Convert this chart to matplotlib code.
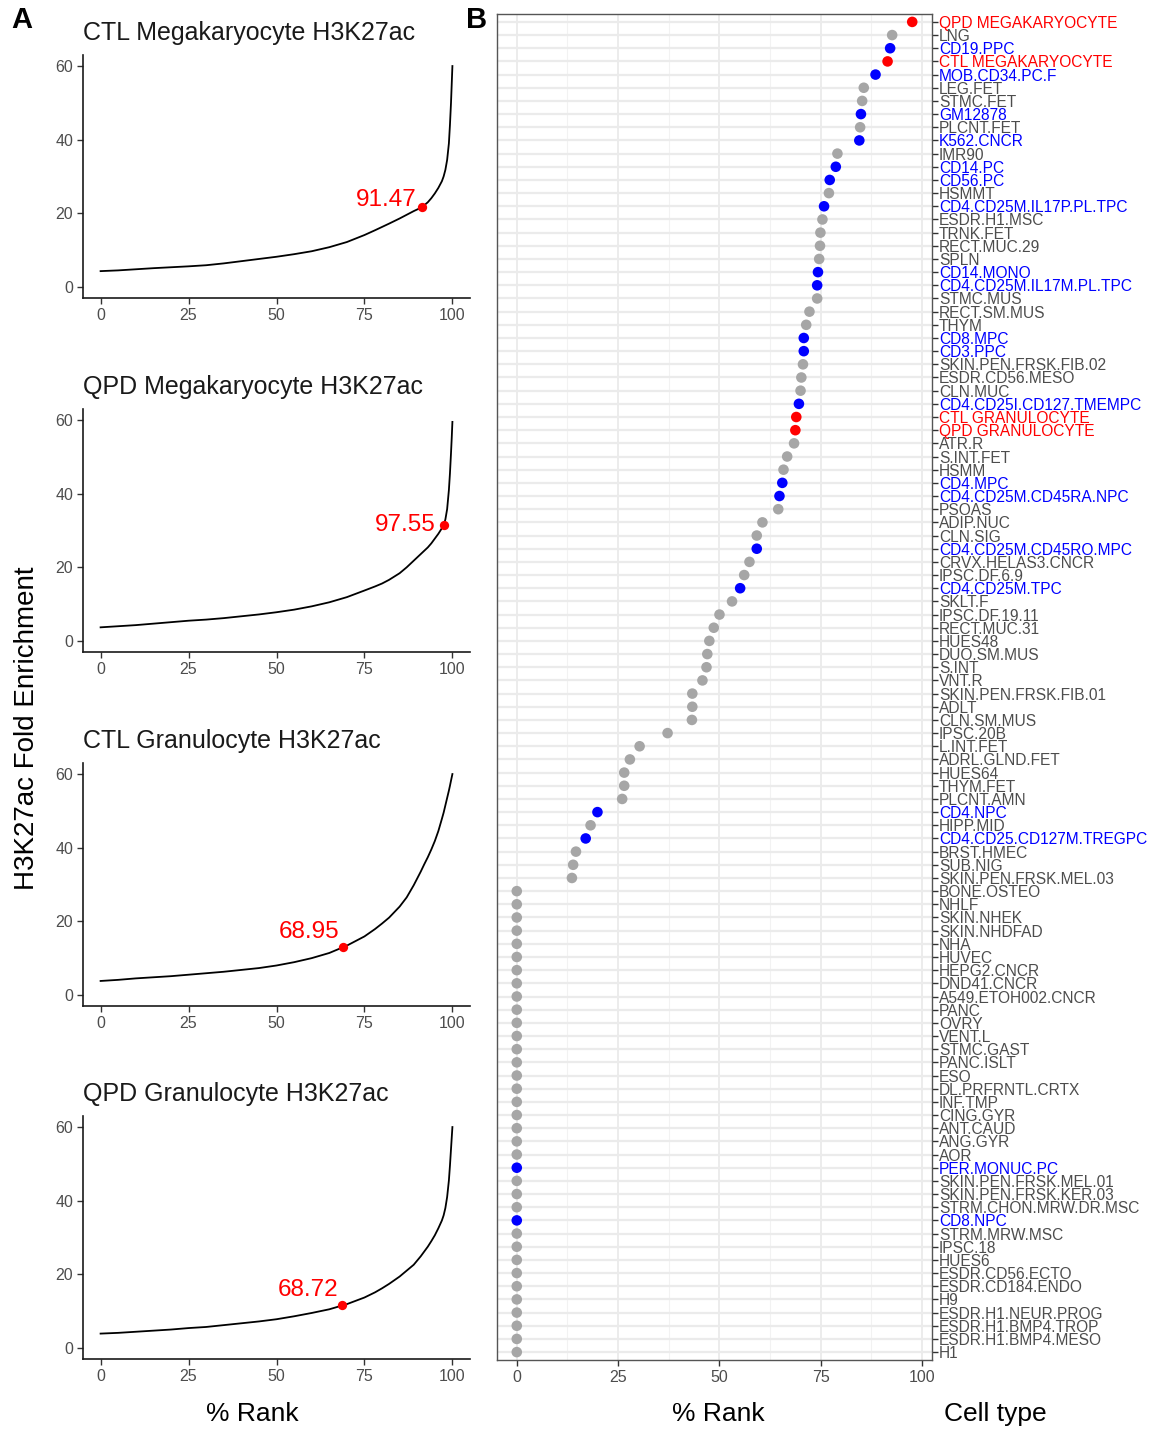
import numpy as np
import matplotlib
matplotlib.use("Agg")
import matplotlib.pyplot as plt
from matplotlib.ticker import MultipleLocator

plt.rcParams['font.family'] = ['Liberation Sans', 'DejaVu Sans']

# ---------------- Data: panel A (ranked fold enrichment curves) ----------------
panel_titles = ["CTL Megakaryocyte H3K27ac", "QPD Megakaryocyte H3K27ac",
                "CTL Granulocyte H3K27ac", "QPD Granulocyte H3K27ac"]
rank_pct = [0, 5, 10, 15, 20, 25, 30, 35, 40, 45, 50, 55, 60, 65, 70, 75, 78, 80, 82, 85,
            87, 89, 91, 92, 93, 94, 95, 96, 97, 97.5, 98, 98.5, 99, 99.3, 99.6, 99.8, 100]
enrich_ctl_mega = [4.3, 4.5, 4.8, 5.1, 5.35, 5.6, 5.9, 6.4, 7.0, 7.6, 8.2, 8.9, 9.7, 10.8, 12.2, 14.1,
                   15.4, 16.3, 17.2, 18.6, 19.6, 20.6, 21.5, 22.2, 23.0, 24.1, 25.4, 26.9, 28.7, 30.0,
                   31.8, 34.5, 39.0, 44.0, 50.0, 55.0, 60.0]
enrich_qpd_mega = [3.7, 4.0, 4.3, 4.7, 5.1, 5.5, 5.8, 6.2, 6.7, 7.2, 7.8, 8.5, 9.4, 10.5, 11.9, 13.7,
                   14.8, 15.6, 16.6, 18.4, 20.0, 21.8, 23.6, 24.5, 25.4, 26.5, 27.8, 29.1, 30.6, 31.4,
                   33.0, 35.8, 41.0, 45.5, 51.0, 55.0, 59.5]
enrich_ctl_gran = [3.8, 4.1, 4.5, 4.8, 5.1, 5.5, 5.9, 6.3, 6.8, 7.3, 8.0, 8.9, 10.0, 11.4, 13.4, 15.9,
                   17.9, 19.4, 21.0, 24.0, 26.5, 29.8, 33.5, 35.5, 37.4, 39.5, 41.8, 44.5, 47.8, 49.5,
                   51.5, 53.5, 55.5, 56.8, 58.2, 59.1, 60.0]
enrich_qpd_gran = [3.9, 4.1, 4.4, 4.7, 5.0, 5.4, 5.7, 6.2, 6.7, 7.2, 7.8, 8.6, 9.5, 10.5, 11.9, 13.7,
                   15.1, 16.2, 17.4, 19.4, 21.0, 22.6, 24.9, 26.2, 27.5, 29.0, 30.6, 32.5, 34.6, 36.0,
                   38.0, 41.0, 45.5, 49.5, 54.0, 57.0, 60.0]
sample_rank = [91.47, 97.55, 68.95, 68.72]
sample_enrich = [21.8, 31.5, 13.0, 11.6]

# ---------------- Data: panel B (percent rank per cell type) ----------------
cell_types = [
    "QPD MEGAKARYOCYTE", "LNG", "CD19.PPC", "CTL MEGAKARYOCYTE", "MOB.CD34.PC.F",
    "LEG.FET", "STMC.FET", "GM12878", "PLCNT.FET", "K562.CNCR",
    "IMR90", "CD14.PC", "CD56.PC", "HSMMT", "CD4.CD25M.IL17P.PL.TPC",
    "ESDR.H1.MSC", "TRNK.FET", "RECT.MUC.29", "SPLN", "CD14.MONO",
    "CD4.CD25M.IL17M.PL.TPC", "STMC.MUS", "RECT.SM.MUS", "THYM", "CD8.MPC",
    "CD3.PPC", "SKIN.PEN.FRSK.FIB.02", "ESDR.CD56.MESO", "CLN.MUC", "CD4.CD25I.CD127.TMEMPC",
    "CTL GRANULOCYTE", "QPD GRANULOCYTE", "ATR.R", "S.INT.FET", "HSMM",
    "CD4.MPC", "CD4.CD25M.CD45RA.NPC", "PSOAS", "ADIP.NUC", "CLN.SIG",
    "CD4.CD25M.CD45RO.MPC", "CRVX.HELAS3.CNCR", "IPSC.DF.6.9", "CD4.CD25M.TPC", "SKLT.F",
    "IPSC.DF.19.11", "RECT.MUC.31", "HUES48", "DUO.SM.MUS", "S.INT",
    "VNT.R", "SKIN.PEN.FRSK.FIB.01", "ADLT", "CLN.SM.MUS", "IPSC.20B",
    "L.INT.FET", "ADRL.GLND.FET", "HUES64", "THYM.FET", "PLCNT.AMN",
    "CD4.NPC", "HIPP.MID", "CD4.CD25.CD127M.TREGPC", "BRST.HMEC", "SUB.NIG",
    "SKIN.PEN.FRSK.MEL.03", "BONE.OSTEO", "NHLF", "SKIN.NHEK", "SKIN.NHDFAD",
    "NHA", "HUVEC", "HEPG2.CNCR", "DND41.CNCR", "A549.ETOH002.CNCR",
    "PANC", "OVRY", "VENT.L", "STMC.GAST", "PANC.ISLT",
    "ESO", "DL.PRFRNTL.CRTX", "INF.TMP", "CING.GYR", "ANT.CAUD",
    "ANG.GYR", "AOR", "PER.MONUC.PC", "SKIN.PEN.FRSK.MEL.01", "SKIN.PEN.FRSK.KER.03",
    "STRM.CHON.MRW.DR.MSC", "CD8.NPC", "STRM.MRW.MSC", "IPSC.18", "HUES6",
    "ESDR.CD56.ECTO", "ESDR.CD184.ENDO", "H9", "ESDR.H1.NEUR.PROG", "ESDR.H1.BMP4.TROP",
    "ESDR.H1.BMP4.MESO", "H1",
]
pct_rank = [
    97.55, 92.6, 92.1, 91.47, 88.5,
    85.6, 85.2, 84.9, 84.7, 84.5,
    79.1, 78.7, 77.2, 77.0, 75.8,
    75.4, 74.9, 74.8, 74.6, 74.3,
    74.1, 74.1, 72.2, 71.4, 70.8,
    70.8, 70.6, 70.2, 70.0, 69.6,
    68.95, 68.72, 68.4, 66.7, 65.8,
    65.5, 64.8, 64.5, 60.6, 59.2,
    59.2, 57.4, 56.1, 55.1, 53.1,
    50.0, 48.6, 47.5, 47.0, 46.8,
    45.8, 43.3, 43.3, 43.2, 37.2,
    30.3, 27.9, 26.5, 26.5, 26.0,
    19.9, 18.2, 17.0, 14.6, 13.9,
    13.6, 0, 0, 0, 0,
    0, 0, 0, 0, 0,
    0, 0, 0, 0, 0,
    0, 0, 0, 0, 0,
    0, 0, 0, 0, 0,
    0, 0, 0, 0, 0,
    0, 0, 0, 0, 0,
    0, 0,
]
blood = {"CD19.PPC", "MOB.CD34.PC.F", "GM12878", "K562.CNCR", "CD14.PC", "CD56.PC",
         "CD4.CD25M.IL17P.PL.TPC", "CD14.MONO", "CD4.CD25M.IL17M.PL.TPC", "CD8.MPC",
         "CD3.PPC", "CD4.CD25I.CD127.TMEMPC", "CD4.MPC", "CD4.CD25M.CD45RA.NPC",
         "CD4.CD25M.CD45RO.MPC", "CD4.CD25M.TPC", "CD4.NPC", "CD4.CD25.CD127M.TREGPC",
         "PER.MONUC.PC", "CD8.NPC"}
samples = {"QPD MEGAKARYOCYTE", "CTL MEGAKARYOCYTE", "CTL GRANULOCYTE", "QPD GRANULOCYTE"}

# ---------------- Styling ----------------
W, H = 1150, 1431
fig = plt.figure(figsize=(W / 100, H / 100), dpi=100)
TICK_GRAY = "#4D4D4D"


def axes_px(l, t, r, b):
    return fig.add_axes([l / W, 1 - b / H, (r - l) / W, (b - t) / H])


curves = [enrich_ctl_mega, enrich_qpd_mega, enrich_ctl_gran, enrich_qpd_gran]
tops = [55, 409, 763, 1116]
label_offsets = [(-4, 5), (-6, 0), (-3, 11), (-3, 11)]
for i in range(4):
    ax = axes_px(83, tops[i], 470, tops[i] + 243)
    ax.plot(rank_pct, curves[i], color="black", lw=1.3, solid_joinstyle="round")
    ax.scatter([sample_rank[i]], [sample_enrich[i]], color="#FF0000", s=45, zorder=3, linewidths=0)
    ax.annotate(f"{sample_rank[i]:.2f}", (sample_rank[i], sample_enrich[i]),
                xytext=label_offsets[i], textcoords="offset points",
                ha="right", va="center", color="#FF0000", fontsize=17.5)
    ax.set_xlim(-5, 105)
    ax.set_ylim(-3, 63)
    ax.set_xticks([0, 25, 50, 75, 100])
    ax.set_yticks([0, 20, 40, 60])
    for s in ["top", "right"]:
        ax.spines[s].set_visible(False)
    for s in ["left", "bottom"]:
        ax.spines[s].set_linewidth(1.2)
        ax.spines[s].set_color("#1A1A1A")
    ax.tick_params(length=4, width=1, color="#333333", labelcolor=TICK_GRAY, labelsize=11.5, pad=3)
    ax.set_title(panel_titles[i], loc="left", fontsize=18, pad=11, color="#1A1A1A")

# Panel B
axb = axes_px(497, 14, 932, 1360)
colors = []
for name in cell_types:
    if name in samples:
        colors.append("#FF0000")
    elif name in blood:
        colors.append("#0000FF")
    else:
        colors.append("#A6A6A6")
ypos = np.arange(len(cell_types))
axb.scatter(pct_rank, ypos, c=colors, s=58, linewidths=0, zorder=3)
axb.set_ylim(len(cell_types) - 1 + 0.6, -0.6)
axb.set_xlim(-4.88, 102.43)
axb.set_yticks(ypos)
axb.set_yticklabels(cell_types)
axb.yaxis.tick_right()
for lab, c in zip(axb.get_yticklabels(), colors):
    lab.set_color("#4D4D4D" if c == "#A6A6A6" else c)
axb.set_xticks([0, 25, 50, 75, 100])
axb.xaxis.set_minor_locator(MultipleLocator(12.5))
axb.set_axisbelow(True)
axb.grid(which="major", axis="y", color="#EBEBEB", lw=1.6)
axb.grid(which="major", axis="x", color="#EBEBEB", lw=1.3)
axb.grid(which="minor", axis="x", color="#F2F2F2", lw=0.8)
axb.tick_params(axis="x", which="minor", length=0)
axb.tick_params(axis="y", length=4, width=1, color="#333333", labelsize=11.2, pad=1)
axb.tick_params(axis="x", which="major", length=4, width=1, color="#333333",
                labelcolor=TICK_GRAY, labelsize=11.5, pad=3)
for s in axb.spines.values():
    s.set_color("#555555")
    s.set_linewidth(1.0)

# Figure-level labels
fig.text(27 / W, 1 - 728 / H, "H3K27ac Fold Enrichment", rotation=90,
         ha="center", va="center", fontsize=20)
fig.text(252 / W, 1 - 1414 / H, "% Rank", ha="center", va="center", fontsize=19)
fig.text(718 / W, 1 - 1414 / H, "% Rank", ha="center", va="center", fontsize=19)
fig.text(995 / W, 1 - 1414 / H, "Cell type", ha="center", va="center", fontsize=19)
fig.text(22 / W, 1 - 20 / H, "A", ha="center", va="center", fontsize=21, fontweight="bold")
fig.text(477 / W, 1 - 20 / H, "B", ha="center", va="center", fontsize=21, fontweight="bold")

fig.savefig("out.png", dpi=100)
